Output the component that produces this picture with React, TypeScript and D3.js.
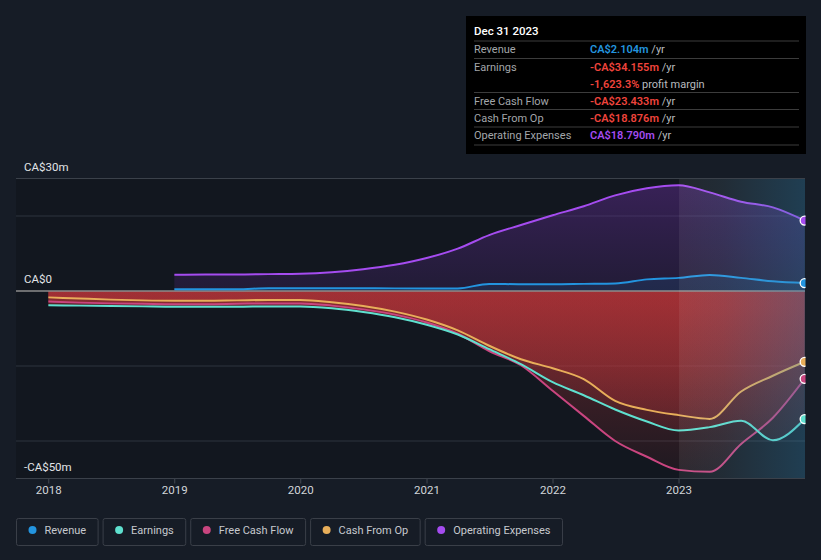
import React from 'react';
import * as d3 from 'd3';

// ---- data (CA$ millions) ----
const lossDates = [
  '2017-12-31', '2018-03-31', '2018-06-30', '2018-09-30',
  '2018-12-31', '2019-03-31', '2019-06-30', '2019-09-30',
  '2019-12-31', '2020-03-31', '2020-06-30', '2020-09-30',
  '2020-12-31', '2021-03-31', '2021-06-30', '2021-09-30',
  '2021-12-31', '2022-03-31', '2022-06-30', '2022-09-30',
  '2022-12-31', '2023-03-31', '2023-06-30', '2023-09-30',
  '2023-12-31',
];
const earnings = [
  -3.8, -3.9, -4.0, -4.1, -4.2, -4.2, -4.2, -4.1, -4.1, -4.6, -5.6, -7.0,
  -9.0, -11.6, -15.5, -19.5, -24.3, -27.8, -31.6, -34.8, -37.2, -36.3, -34.6, -39.8,
  -34.155,
];
const freeCashFlow = [
  -2.8, -3.1, -3.3, -3.4, -3.5, -3.5, -3.4, -3.3, -3.3, -3.9, -4.9, -6.3,
  -8.4, -11.4, -16.0, -19.8, -26.6, -33.3, -40.0, -44.2, -47.7, -48.2, -40.8, -33.8,
  -23.433,
];
const cashFromOp = [
  -1.7, -2.0, -2.3, -2.5, -2.6, -2.6, -2.5, -2.4, -2.4, -3.0, -4.0, -5.5,
  -7.6, -10.5, -14.6, -18.2, -20.6, -23.5, -29.3, -31.7, -33.1, -34.1, -26.8, -22.6,
  -18.876,
];
const revDates = [
  '2018-12-31', '2019-03-31', '2019-06-30', '2019-09-30',
  '2019-12-31', '2020-03-31', '2020-06-30', '2020-09-30',
  '2020-12-31', '2021-03-31', '2021-06-30', '2021-09-30',
  '2021-12-31', '2022-03-31', '2022-06-30', '2022-09-30',
  '2022-12-31', '2023-03-31', '2023-06-30', '2023-09-30',
  '2023-12-31',
];
const revenue = [
  0.45, 0.45, 0.45, 0.75, 0.75, 0.75, 0.75, 0.7, 0.7, 0.7, 1.9, 1.8,
  1.8, 1.9, 2.0, 3.1, 3.5, 4.3, 3.5, 2.6, 2.104,
];
const opex = [
  4.3, 4.4, 4.4, 4.5, 4.6, 5.0, 5.8, 7.0, 8.8, 11.3, 14.9, 17.6,
  20.2, 22.6, 25.5, 27.4, 28.2, 26.3, 23.8, 22.3, 18.79,
];

const yearTicks = ['2018', '2019', '2020', '2021', '2022', '2023'];
const gridValues = [20, -20, -40];
const yLabels = [
  { v: 30, t: 'CA$30m' },
  { v: 0, t: 'CA$0' },
  { v: -50, t: '-CA$50m' },
];

const legendItems = [
  { name: 'Revenue', color: '#2394df' },
  { name: 'Earnings', color: '#5fe0cf' },
  { name: 'Free Cash Flow', color: '#c9457f' },
  { name: 'Cash From Op', color: '#e8ae5a' },
  { name: 'Operating Expenses', color: '#a54cf0' },
];

const tooltipTitle = 'Dec 31 2023';
const tooltipRows = [
  { label: 'Revenue', value: 'CA$2.104m', suffix: ' /yr', color: '#2394df' },
  { label: 'Earnings', value: '-CA$34.155m', suffix: ' /yr', color: '#f0443c' },
  { label: '', value: '-1,623.3%', suffix: ' profit margin', color: '#f0443c' },
  { label: 'Free Cash Flow', value: '-CA$23.433m', suffix: ' /yr', color: '#f0443c' },
  { label: 'Cash From Op', value: '-CA$18.876m', suffix: ' /yr', color: '#f0443c' },
  { label: 'Operating Expenses', value: 'CA$18.790m', suffix: ' /yr', color: '#a54cf0' },
];

const FONT = 'Roboto, "Noto Sans", sans-serif';
const LEGEND_FS = 11;

function measure(text: string, size: number) {
  if (typeof document === 'undefined') return text.length * size * 0.5;
  const c = document.createElement('canvas');
  const ctx = c.getContext('2d');
  if (!ctx) return text.length * size * 0.5;
  ctx.font = `${size}px Roboto`;
  return ctx.measureText(text).width;
}

export default function App() {
  const W = 821;
  const H = 560;
  const plotL = 16;
  const plotR = 805;
  const plotT = 178.5;
  const plotB = 478.5;

  const parse = d3.timeParse('%Y-%m-%d');
  const x = d3
    .scaleTime()
    .domain([new Date(2018, 0, 1), new Date(2024, 0, 1)])
    .range([48.7, 805]);
  const y = d3.scaleLinear().domain([-50, 30]).range([plotB, plotT]);

  const mk = (dates: string[], vals: number[]) =>
    dates.map((d, i) => ({ d: parse(d) as Date, v: vals[i] }));

  const sEarn = mk(lossDates, earnings);
  const sFcf = mk(lossDates, freeCashFlow);
  const sCfo = mk(lossDates, cashFromOp);
  const sRev = mk(revDates, revenue);
  const sOpex = mk(revDates, opex);

  const line = d3
    .line<{ d: Date; v: number }>()
    .x((p) => x(p.d))
    .y((p) => y(p.v))
    .curve(d3.curveMonotoneX);
  const area = d3
    .area<{ d: Date; v: number }>()
    .x((p) => x(p.d))
    .y0(y(0))
    .y1((p) => y(p.v))
    .curve(d3.curveMonotoneX);

  const hlX = x(new Date(2023, 0, 1));

  // legend layout
  let lx = 16.5;
  const legend = legendItems.map((it) => {
    const w = 28 + measure(it.name, LEGEND_FS) + 12;
    const r = { ...it, x: lx, w };
    lx += w + 5;
    return r;
  });

  const series = [
    { s: sFcf, c: legendItems[2].color },
    { s: sEarn, c: legendItems[1].color },
    { s: sCfo, c: legendItems[3].color },
    { s: sRev, c: legendItems[0].color },
    { s: sOpex, c: legendItems[4].color },
  ];

  const rowY = [53, 70.5, 87.5, 104.5, 122, 139];
  const sepY = [41, 58.5, 92.5, 109.5, 127, 145];

  return (
    <div style={{ position: 'absolute', left: 0, top: 0 }}>
      <svg width={W} height={H} style={{ display: 'block', fontFamily: FONT }}>
        <defs>
          <linearGradient id="gPurple" gradientUnits="userSpaceOnUse" x1="0" y1={plotT} x2="0" y2={y(0)}>
            <stop offset="0" stopColor="#6a2fa0" stopOpacity="0.45" />
            <stop offset="1" stopColor="#5a2b8a" stopOpacity="0.22" />
          </linearGradient>
          <linearGradient id="gRed" gradientUnits="userSpaceOnUse" x1="0" y1={y(0)} x2="0" y2={plotB}>
            <stop offset="0" stopColor="#c4363a" stopOpacity="0.42" />
            <stop offset="1" stopColor="#c4363a" stopOpacity="0.06" />
          </linearGradient>
          <linearGradient id="gHl" gradientUnits="userSpaceOnUse" x1={hlX} y1="0" x2={plotR} y2="0">
            <stop offset="0" stopColor="#1a7ab0" stopOpacity="0" />
            <stop offset="0.35" stopColor="#1a7ab0" stopOpacity="0.06" />
            <stop offset="1" stopColor="#1a7ab0" stopOpacity="0.28" />
          </linearGradient>
          <clipPath id="plotClip">
            <rect x={plotL} y={plotT - 2} width={plotR - plotL} height={plotB - plotT + 4} />
          </clipPath>
          <clipPath id="dotClip">
            <rect x={plotL} y={plotT - 10} width={plotR - plotL + 0.5} height={plotB - plotT + 20} />
          </clipPath>
        </defs>

        <rect x={0} y={0} width={W} height={H} fill="#161c26" />
        <rect x={plotL} y={plotT} width={plotR - plotL} height={plotB - plotT} fill="#12171f" />

        {/* grid */}
        {gridValues.map((g) => (
          <line key={g} x1={plotL} x2={plotR} y1={y(g)} y2={y(g)} stroke="#1f252e" strokeWidth={2} />
        ))}

        <g clipPath="url(#plotClip)">
          {/* areas */}
          <path d={area(sOpex) || ''} fill="url(#gPurple)" />
          <path d={area(sRev) || ''} fill="#2394df" fillOpacity={0.12} />
          <path d={area(sFcf) || ''} fill="url(#gRed)" />
          <path d={area(sEarn) || ''} fill="url(#gRed)" />
          <path d={area(sCfo) || ''} fill="url(#gRed)" />

          {/* zero line */}
          <line x1={plotL} x2={plotR} y1={y(0)} y2={y(0)} stroke="#8d8d8d" strokeWidth={1.6} />

          {/* lines */}
          {series.map((s, i) => (
            <path key={i} d={line(s.s) || ''} fill="none" stroke={s.c} strokeWidth={2} />
          ))}

          {/* highlight */}
          <rect x={hlX} y={plotT} width={plotR - hlX} height={plotB - plotT} fill="#ffffff" fillOpacity={0.07} />
          <rect x={hlX} y={plotT} width={plotR - hlX} height={plotB - plotT} fill="url(#gHl)" />
        </g>

        {/* top and bottom borders */}
        <line x1={plotL} x2={plotR} y1={plotT} y2={plotT} stroke="#3b414a" strokeWidth={1.2} />
        <line x1={plotL} x2={plotR} y1={plotB} y2={plotB} stroke="#3b414a" strokeWidth={1.2} />

        {/* x ticks */}
        {yearTicks.map((t) => {
          const xx = x(new Date(+t, 0, 1));
          return (
            <g key={t}>
              <line x1={xx} x2={xx} y1={plotB} y2={plotB + 5} stroke="#3b414a" strokeWidth={1.2} />
              <text x={xx} y={494} fill="#d2d5d9" fontSize={11.5} textAnchor="middle">
                {t}
              </text>
            </g>
          );
        })}

        {/* y labels */}
        {yLabels.map((l) => (
          <text key={l.t} x={24} y={y(l.v) - 8} fill="#e2e4e7" fontSize={11.5}>
            {l.t}
          </text>
        ))}

        {/* end dots */}
        <g clipPath="url(#dotClip)">
          {series.map((s, i) => {
            const p = s.s[s.s.length - 1];
            return (
              <circle key={i} cx={x(p.d)} cy={y(p.v)} r={4.5} fill={s.c} stroke="#ffffff" strokeWidth={1.3} />
            );
          })}
        </g>

        {/* tooltip */}
        <rect x={466} y={16} width={340} height={138} fill="#000000" />
        <text x={474} y={35} fill="#ffffff" fontSize={11.5} fontWeight={500}>
          {tooltipTitle}
        </text>
        {sepY.map((sy, i) => (
          <line key={i} x1={474} x2={799} y1={sy} y2={sy} stroke="#3c3c3c" strokeWidth={1} />
        ))}
        {tooltipRows.map((r, i) => (
          <g key={i}>
            {r.label && (
              <text x={474} y={rowY[i]} fill="#a3a6aa" fontSize={11}>
                {r.label}
              </text>
            )}
            <text x={590} y={rowY[i]} fontSize={11}>
              <tspan fill={r.color} fontWeight={600}>
                {r.value}
              </tspan>
              <tspan fill="#b8bbbf">{r.suffix}</tspan>
            </text>
          </g>
        ))}

        {/* legend */}
        {legend.map((it) => (
          <g key={it.name}>
            <rect x={it.x} y={518.5} width={it.w} height={27} rx={2} fill="none" stroke="#3a3f48" strokeWidth={1} />
            <circle cx={it.x + 16} cy={530} r={4} fill={it.color} />
            <text x={it.x + 28} y={534} fill="#c6c9ce" fontSize={LEGEND_FS}>
              {it.name}
            </text>
          </g>
        ))}
      </svg>
    </div>
  );
}
